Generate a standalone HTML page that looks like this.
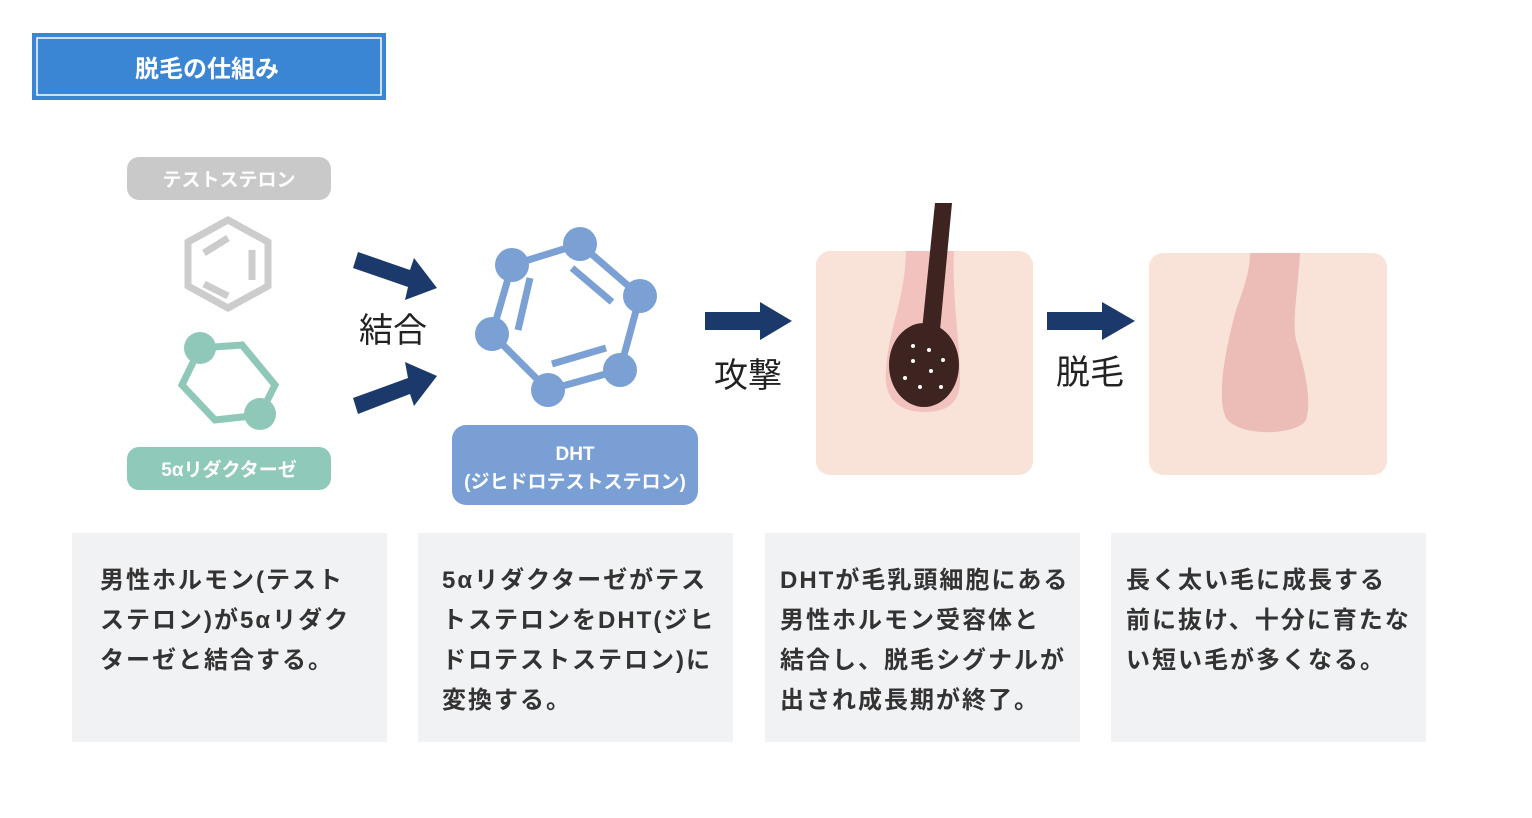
<!DOCTYPE html>
<html><head><meta charset="utf-8"><style>
body{margin:0;background:#fff;}
svg{display:block}
text{font-family:"Liberation Sans","Noto Sans CJK JP",sans-serif;}
.d{font-size:24px;fill:#333;font-weight:bold;letter-spacing:2px;}
</style></head><body>
<svg width="1532" height="818" viewBox="0 0 1532 818" xmlns="http://www.w3.org/2000/svg">
<rect x="32" y="33" width="354" height="67" fill="#3a86d4"/>
<rect x="37" y="38" width="344" height="57" fill="none" stroke="#fff" stroke-width="1.5"/>
<text x="207" y="77" font-size="24" fill="#fff" text-anchor="middle" font-weight="bold">脱毛の仕組み</text>

<rect x="127" y="157" width="204" height="43" rx="12" fill="#c9c9c9"/>
<text x="229" y="186" font-size="19" fill="#fff" text-anchor="middle" font-weight="bold">テストステロン</text>
<g stroke="#cccccc" stroke-width="7" fill="none">
<polygon points="228,220 268,242 268,286 228,308 188,286 188,242"/>
<line x1="204" y1="253" x2="228" y2="238"/><line x1="252" y1="250" x2="252" y2="280"/><line x1="204" y1="284" x2="228" y2="296"/>
</g>
<polygon points="200,348 242,345 275,385 260,415 215,420 182,385" fill="none" stroke="#8fc8b8" stroke-width="7"/>
<circle cx="200" cy="348" r="16" fill="#8fc8b8"/><circle cx="260" cy="414" r="16" fill="#8fc8b8"/>
<rect x="127" y="447" width="204" height="43" rx="12" fill="#8fc9b9"/>
<text x="229" y="476" font-size="19" fill="#fff" text-anchor="middle" font-weight="bold">5αリダクターゼ</text>

<g fill="#1b3a6b">
<polygon points="353,268 358,252 410,270 414,258 437,288 405,300 408,287"/>
<polygon points="353,398 358,414 410,394 414,406 437,376 405,362 408,378"/>
<polygon points="705,312 760,312 760,302 792,321 760,340 760,330 705,330"/>
<polygon points="1047,312 1102,312 1102,302 1135,321 1102,340 1102,330 1047,330"/>
</g>
<text x="393" y="342" font-size="34" fill="#222" text-anchor="middle">結合</text>
<text x="748" y="387" font-size="34" fill="#222" text-anchor="middle">攻撃</text>
<text x="1090" y="384" font-size="34" fill="#222" text-anchor="middle">脱毛</text>

<g stroke="#7aa0d4" stroke-width="7" fill="none">
<polygon points="580,244 640,296 620,370 548,390 492,334 512,265"/>
<line x1="572" y1="268" x2="612" y2="302"/><line x1="530" y1="278" x2="518" y2="330"/><line x1="552" y1="364" x2="606" y2="348"/>
</g>
<g fill="#7aa0d4">
<circle cx="580" cy="244" r="17"/><circle cx="640" cy="296" r="17"/><circle cx="620" cy="370" r="17"/><circle cx="548" cy="390" r="17"/><circle cx="492" cy="334" r="17"/><circle cx="512" cy="265" r="17"/>
</g>
<rect x="452" y="425" width="246" height="80" rx="14" fill="#7a9fd4"/>
<text x="575" y="460" font-size="19" fill="#fff" text-anchor="middle" font-weight="bold">DHT</text>
<text x="575" y="488" font-size="19" fill="#fff" text-anchor="middle" font-weight="bold">(ジヒドロテストステロン)</text>

<rect x="816" y="251" width="217" height="224" rx="14" fill="#f9e3d8"/>
<path d="M906,251 L954,251 C952,300 960,340 960,380 C960,405 945,412 925,412 C900,412 883,400 886,370 C888,330 905,300 906,251 Z" fill="#f2c3be"/>
<polygon points="935,203 952,203 940,330 922,330" fill="#3d2420"/>
<ellipse cx="924" cy="365" rx="35" ry="42" fill="#3d2420"/>
<g fill="#fff"><circle cx="913" cy="346" r="2"/><circle cx="929" cy="350" r="2"/><circle cx="913" cy="361" r="2"/><circle cx="943" cy="360" r="2"/><circle cx="931" cy="371" r="2"/><circle cx="905" cy="378" r="2"/><circle cx="920" cy="387" r="2"/><circle cx="941" cy="387" r="2"/></g>

<rect x="1149" y="253" width="238" height="222" rx="14" fill="#f9e3d8"/>
<path d="M1250,253 L1300,253 C1298,290 1292,320 1296,340 C1305,370 1312,400 1306,420 C1298,435 1240,438 1226,418 C1215,395 1228,340 1236,310 C1245,285 1250,270 1250,253 Z" fill="#ecbcb7"/>

<g fill="#f1f2f4">
<rect x="72" y="533" width="315" height="209"/><rect x="418" y="533" width="315" height="209"/>
<rect x="765" y="533" width="315" height="209"/><rect x="1111" y="533" width="315" height="209"/>
</g>
<g>
<text class="d" x="100" y="588">男性ホルモン(テスト</text>
<text class="d" x="100" y="628">ステロン)が5αリダク</text>
<text class="d" x="100" y="668">ターゼと結合する。</text>
<text class="d" x="442" y="588">5αリダクターゼがテス</text>
<text class="d" x="442" y="628">トステロンをDHT(ジヒ</text>
<text class="d" x="442" y="668">ドロテストステロン)に</text>
<text class="d" x="442" y="708">変換する。</text>
<text class="d" x="780" y="588">DHTが毛乳頭細胞にある</text>
<text class="d" x="780" y="628">男性ホルモン受容体と</text>
<text class="d" x="780" y="668">結合し、脱毛シグナルが</text>
<text class="d" x="780" y="708">出され成長期が終了。</text>
<text class="d" x="1126" y="588">長く太い毛に成長する</text>
<text class="d" x="1126" y="628">前に抜け、十分に育たな</text>
<text class="d" x="1126" y="668">い短い毛が多くなる。</text>
</g>
</svg>
</body></html>
